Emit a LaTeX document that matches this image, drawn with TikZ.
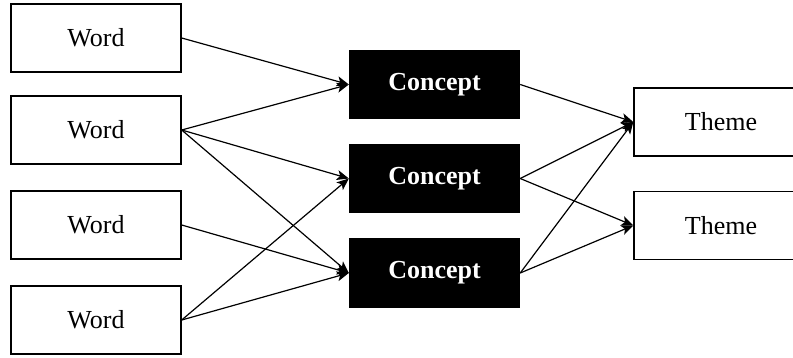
\documentclass[tikz,border=0pt]{standalone}
\usepackage{fontspec}
\setmainfont{Liberation Serif}
\usetikzlibrary{arrows.meta, positioning}

\begin{document}
\begin{tikzpicture}[> = {Stealth[length=12pt, width=10pt, inset=3pt]}, x=1pt, y=-1pt,
	box/.style={draw, line width=1.4pt, minimum width=170pt, minimum height=68pt, inner sep=0pt, font=\fontsize{26}{30}\selectfont},
	concept/.style={box, fill=black, text=white, font=\fontsize{26}{30}\selectfont\bfseries},
	link/.style={->, line width=1.2pt}]
			\useasboundingbox (0,0) rectangle (793,358);
			\clip (0,0) rectangle (793,358);
			
			\node [box] (w1) at (96, 38) {Word};
			\node [box] (w2) at (96, 130) {Word};
			\node [box] (w3) at (96, 225) {Word};
			\node [box] (w4) at (96, 320) {Word};
			
			\node [concept] (c1) at (434.5, 84.5) {Concept};
			\node [concept] (c2) at (434.5, 178.5) {Concept};
			\node [concept] (c3) at (434.5, 273) {Concept};
			
			\node [box, minimum width=174pt] (t1) at (721, 122) {Theme};
			\node [box, minimum width=174pt] (t2) at (721, 225.5) {Theme};
			
			\draw [link] (w1.east) -- (c1.west);
			\draw [link] (w2.east) -- (c1.west);
			\draw [link] (w2.east) -- (c2.west);
			\draw [link] (w2.east) -- (c3.west);
			\draw [link] (w3.east) -- (c3.west);
			\draw [link] (w4.east) -- (c2.west);
			\draw [link] (w4.east) -- (c3.west);
			
			\draw [link] (c1.east) -- (t1.west);
			\draw [link] (c2.east) -- (t1.west);
			\draw [link] (c2.east) -- (t2.west);
			\draw [link] (c3.east) -- (t1.west);
			\draw [link] (c3.east) -- (t2.west);
		\end{tikzpicture}
\end{document}
